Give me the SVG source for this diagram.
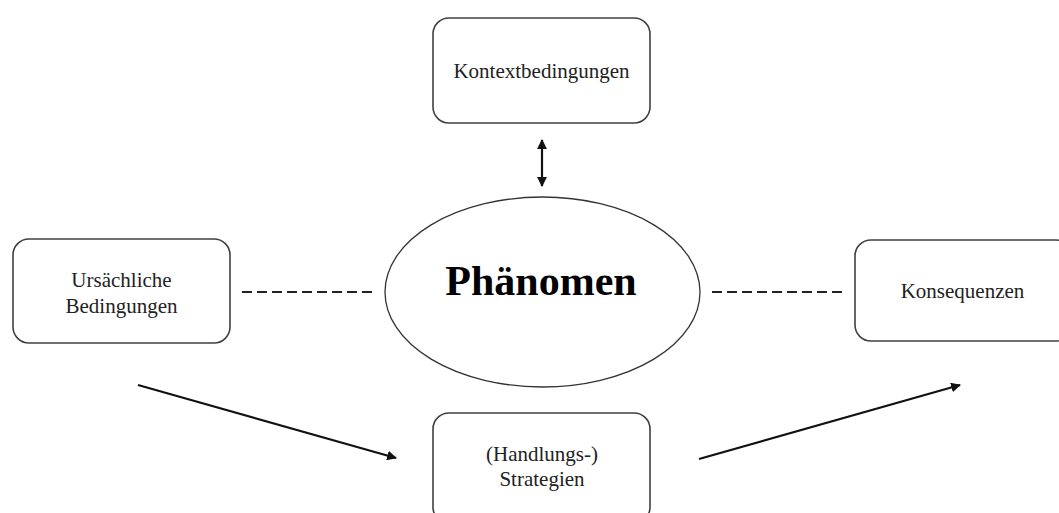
<svg xmlns="http://www.w3.org/2000/svg" width="1059" height="513" viewBox="0 0 1059 513">
<style>
.box{fill:#fff;stroke:#404040;stroke-width:1.6}
.lbl{font-family:"Liberation Serif","Times New Roman",serif;font-size:21px;fill:#222;text-anchor:middle}
.big{font-family:"Liberation Serif","Times New Roman",serif;font-size:42px;font-weight:bold;fill:#000;text-anchor:middle}
.dash{stroke:#222;stroke-width:2;stroke-dasharray:10 5;fill:none}
.arr{stroke:#111;stroke-width:2.2;fill:none}
</style>
<defs>
<marker id="ah" viewBox="0 0 10 10" refX="9" refY="5" markerWidth="4.5" markerHeight="4.5" orient="auto-start-reverse" markerUnits="strokeWidth">
<path d="M0,0 L10,5 L0,10 z" fill="#111"/>
</marker>
</defs>
<rect width="1059" height="513" fill="#fff"/>
<g id="connectors">
<line class="arr" x1="542" y1="140" x2="542" y2="186" marker-start="url(#ah)" marker-end="url(#ah)"/>
<line class="dash" x1="242" y1="292" x2="372" y2="292"/>
<line class="dash" x1="712" y1="292" x2="842" y2="292"/>
<line class="arr" x1="138" y1="385" x2="396" y2="458" marker-end="url(#ah)"/>
<line class="arr" x1="699" y1="459" x2="960" y2="385" marker-end="url(#ah)"/>
</g>
<g id="kontext">
<rect class="box" x="433" y="18" width="217" height="105" rx="16"/>
<text class="lbl" x="541.5" y="78">Kontextbedingungen</text>
</g>
<g id="phaenomen">
<ellipse cx="542.5" cy="292" rx="157.5" ry="95" fill="#fff" stroke="#333" stroke-width="1.3"/>
<text class="big" x="541" y="295">Phänomen</text>
</g>
<g id="ursaechlich">
<rect class="box" x="13" y="239" width="217" height="104" rx="16"/>
<text class="lbl" x="121.5" y="287">Ursächliche</text>
<text class="lbl" x="121.5" y="313">Bedingungen</text>
</g>
<g id="konsequenzen">
<rect class="box" x="855" y="240" width="217" height="101" rx="16"/>
<text class="lbl" x="962.5" y="298">Konsequenzen</text>
</g>
<g id="strategien">
<rect class="box" x="433" y="413" width="217" height="110" rx="16"/>
<text class="lbl" x="542" y="461">(Handlungs-)</text>
<text class="lbl" x="542" y="486">Strategien</text>
</g>
</svg>
